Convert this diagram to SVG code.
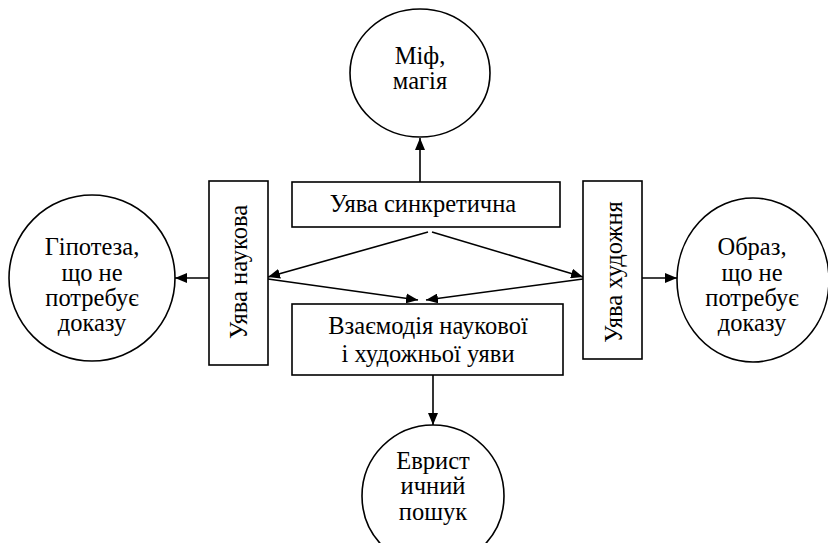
<svg xmlns="http://www.w3.org/2000/svg" width="828" height="543" viewBox="0 0 828 543">
<style>
.s{fill:#fff;stroke:#000;stroke-width:1.6}
.t{font-family:'Times New Roman','Liberation Serif',serif;font-size:24.5px;fill:#000;text-anchor:middle}
.c{stroke:#000;stroke-width:1.6;fill:none}
</style>
<defs>
<marker id="a" viewBox="0 0 12 10" refX="12" refY="5" markerWidth="12" markerHeight="10" markerUnits="userSpaceOnUse" orient="auto">
<path d="M0,0 L12,5 L0,10 Z" fill="#000"/>
</marker>
</defs>
<rect width="828" height="543" fill="#fff"/>
<g id="connectors">
<line class="c" x1="420" y1="182" x2="420" y2="138" marker-end="url(#a)"/>
<line class="c" x1="428" y1="232" x2="268" y2="277" marker-end="url(#a)"/>
<line class="c" x1="432" y1="232" x2="583" y2="277" marker-end="url(#a)"/>
<line class="c" x1="268" y1="279" x2="418" y2="300" marker-end="url(#a)"/>
<line class="c" x1="583" y1="279" x2="426" y2="300" marker-end="url(#a)"/>
<line class="c" x1="209" y1="278" x2="175" y2="278" marker-end="url(#a)"/>
<line class="c" x1="642" y1="278" x2="677" y2="278" marker-end="url(#a)"/>
<line class="c" x1="433" y1="375" x2="433" y2="425" marker-end="url(#a)"/>
</g>
<g id="myth">
<ellipse class="s" cx="420" cy="73" rx="70" ry="64"/>
<text class="t" x="420" y="64">Міф,</text>
<text class="t" x="420" y="89">магія</text>
</g>
<g id="syncretic">
<rect class="s" x="292" y="182" width="268" height="45"/>
<text class="t" x="423" y="212">Уява синкретична</text>
</g>
<g id="scientific">
<rect class="s" x="209" y="181" width="59" height="184"/>
<text class="t" transform="translate(247,272) rotate(-90)">Уява наукова</text>
</g>
<g id="artistic">
<rect class="s" x="583" y="181" width="59" height="178"/>
<text class="t" transform="translate(622,272) rotate(-90)">Уява художня</text>
</g>
<g id="interaction">
<rect class="s" x="292" y="304" width="271" height="71"/>
<text class="t" x="428" y="334">Взаємодія наукової</text>
<text class="t" x="428" y="362">і художньої уяви</text>
</g>
<g id="hypothesis">
<ellipse class="s" cx="92" cy="278" rx="83" ry="83"/>
<text class="t" x="92" y="255">Гіпотеза,</text>
<text class="t" x="92" y="281">що не</text>
<text class="t" x="92" y="306">потребує</text>
<text class="t" x="92" y="331">доказу</text>
</g>
<g id="image">
<ellipse class="s" cx="753" cy="280" rx="76" ry="82"/>
<text class="t" x="752" y="255">Образ,</text>
<text class="t" x="752" y="281">що не</text>
<text class="t" x="752" y="306">потребує</text>
<text class="t" x="752" y="331">доказу</text>
</g>
<g id="heuristic">
<ellipse class="s" cx="433" cy="496" rx="71" ry="71"/>
<text class="t" x="433" y="469">Еврист</text>
<text class="t" x="433" y="494">ичний</text>
<text class="t" x="433" y="520">пошук</text>
</g>
</svg>
